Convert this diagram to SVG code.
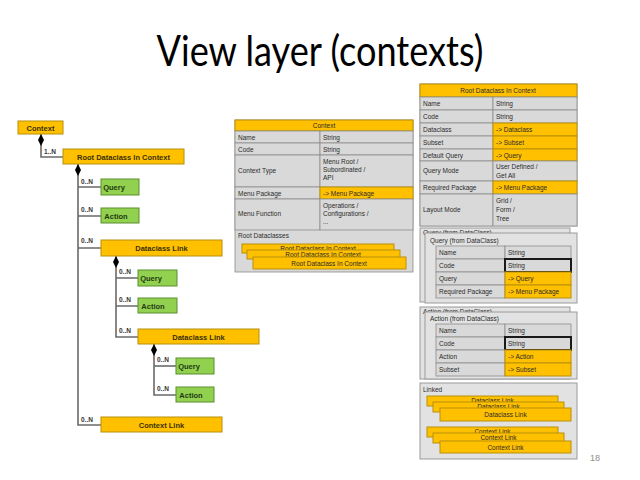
<svg xmlns="http://www.w3.org/2000/svg" width="640" height="480" viewBox="0 0 640 480">
<defs>
<style>
.o{fill:#FFC000;stroke:#B8900A;stroke-width:1}
.g{fill:#92D050;stroke:#5B8F2E;stroke-width:1}
.c{fill:#D9D9D9;stroke:#8C8C8C;stroke-width:0.8}
.p{fill:#E2E2E2;stroke:#9A9A9A;stroke-width:1}
.k{fill:none;stroke:#1a1a1a;stroke-width:2}
.t{font-family:"Liberation Sans",Arial,sans-serif;font-size:6.5px;fill:#2b2b2b}
.m{text-anchor:middle}
.n{font-family:"Liberation Sans",Arial,sans-serif;font-size:7.5px;font-weight:bold;fill:#3a3000;text-anchor:middle}
.ng{fill:#1f3a10}
.lb{font-family:"Liberation Sans",Arial,sans-serif;font-size:6.5px;font-weight:bold;fill:#333}
.ln{stroke:#6a6a6a;stroke-width:1.6;fill:none}
</style>
<marker id="dia" viewBox="0 0 12 6" refX="0" refY="3" markerWidth="12" markerHeight="6" markerUnits="userSpaceOnUse" orient="auto">
<path d="M0,3 L6,0 L12,3 L6,6 Z" fill="#000"/>
</marker>
</defs>
<rect width="640" height="480" fill="#fff"/>
<text x="320" y="66" font-family="Lato,'Open Sans',sans-serif" font-size="42" fill="#000" text-anchor="middle" textLength="327" lengthAdjust="spacingAndGlyphs">View layer (contexts)</text>

<g id="connectors">
<path class="ln" marker-start="url(#dia)" d="M41,134 V157 H63"/>
<text class="lb" x="44" y="154">1..N</text>
<path class="ln" marker-start="url(#dia)" d="M78,164 V425 H101"/>
<path class="ln" d="M78,187 H101 M78,216 H101 M78,248 H101"/>
<text class="lb" x="81" y="184">0..N</text>
<text class="lb" x="81" y="212">0..N</text>
<text class="lb" x="81" y="243">0..N</text>
<text class="lb" x="81" y="422">0..N</text>
<path class="ln" marker-start="url(#dia)" d="M116,256 V337 H138"/>
<path class="ln" d="M116,278 H138 M116,306 H138"/>
<text class="lb" x="119" y="274">0..N</text>
<text class="lb" x="119" y="302">0..N</text>
<text class="lb" x="119" y="333">0..N</text>
<path class="ln" marker-start="url(#dia)" d="M154,344 V395 H176"/>
<path class="ln" d="M154,366 H176"/>
<text class="lb" x="157" y="362">0..N</text>
<text class="lb" x="157" y="391">0..N</text>
</g>

<g id="n-context"><rect class="o" x="18" y="121" width="45" height="13"/><text class="n" x="40.5" y="130.5">Context</text></g>
<g id="n-root"><rect class="o" x="63" y="149" width="121" height="15"/><text class="n" x="123.5" y="159.5">Root Dataclass In Context</text></g>
<g id="n-query1"><rect class="g" x="101" y="179" width="38" height="16"/><text class="n ng" x="114" y="190" text-anchor="middle">Query</text></g>
<g id="n-action1"><rect class="g" x="101" y="208" width="38" height="15"/><text class="n ng" x="116" y="218.5">Action</text></g>
<g id="n-dlink1"><rect class="o" x="101" y="240" width="121" height="16"/><text class="n" x="161.5" y="251">Dataclass Link</text></g>
<g id="n-query2"><rect class="g" x="138" y="270" width="39" height="16"/><text class="n ng" x="151" y="281">Query</text></g>
<g id="n-action2"><rect class="g" x="138" y="298" width="39" height="15"/><text class="n ng" x="153" y="308.5">Action</text></g>
<g id="n-dlink2"><rect class="o" x="138" y="329" width="121" height="15"/><text class="n" x="198.5" y="339.5">Dataclass Link</text></g>
<g id="n-query3"><rect class="g" x="176" y="358" width="38" height="16"/><text class="n ng" x="189" y="369">Query</text></g>
<g id="n-action3"><rect class="g" x="176" y="387" width="38" height="15"/><text class="n ng" x="191" y="397.5">Action</text></g>
<g id="n-ctxlink"><rect class="o" x="101" y="417" width="121" height="15"/><text class="n" x="161.5" y="427.5">Context Link</text></g>

<g id="t-context">
<rect class="c" x="235" y="120" width="178" height="152"/>
<rect class="o" x="235" y="120" width="178" height="11"/>
<text class="t m" x="324" y="128">Context</text>
<rect class="c" x="235" y="131" width="85" height="12"/><rect class="c" x="320" y="131" width="93" height="12"/>
<text class="t" x="238" y="139.5">Name</text><text class="t" x="323" y="139.5">String</text>
<rect class="c" x="235" y="143" width="85" height="12"/><rect class="c" x="320" y="143" width="93" height="12"/>
<text class="t" x="238" y="151.5">Code</text><text class="t" x="323" y="151.5">String</text>
<rect class="c" x="235" y="155" width="85" height="32"/><rect class="c" x="320" y="155" width="93" height="32"/>
<text class="t" x="238" y="173">Context Type</text>
<text class="t" x="323" y="164">Menu Root /</text><text class="t" x="323" y="172">Subordinated /</text><text class="t" x="323" y="180">API</text>
<rect class="c" x="235" y="187" width="85" height="12"/><rect class="o" x="320" y="187" width="93" height="12"/>
<text class="t" x="238" y="195.5">Menu Package</text><text class="t" x="323" y="195.5">-&gt; Menu Package</text>
<rect class="c" x="235" y="199" width="85" height="31"/><rect class="c" x="320" y="199" width="93" height="31"/>
<text class="t" x="238" y="216">Menu Function</text>
<text class="t" x="323" y="208">Operations /</text><text class="t" x="323" y="216">Configurations /</text><text class="t" x="323" y="224" fill="#888">...</text>
<text class="t" x="238" y="238">Root Dataclasses</text>
<rect class="o" x="242" y="244" width="152" height="9"/><text class="t m" x="318" y="251">Root Dataclass In Context</text>
<rect class="o" x="247" y="250" width="153" height="9"/><text class="t m" x="323" y="257">Root Dataclass In Context</text>
<rect class="o" x="253" y="257" width="153" height="12"/><text class="t m" x="329" y="265.5">Root Dataclass In Context</text>
</g>

<g id="t-root">
<rect class="c" x="420" y="84" width="157" height="142"/>
<rect class="o" x="420" y="84" width="157" height="13"/>
<text class="t m" x="498" y="93">Root Dataclass In Context</text>
<rect class="c" x="420" y="97" width="73" height="13"/><rect class="c" x="493" y="97" width="84" height="13"/>
<text class="t" x="423" y="106">Name</text><text class="t" x="496" y="106">String</text>
<rect class="c" x="420" y="110" width="73" height="13"/><rect class="c" x="493" y="110" width="84" height="13"/>
<text class="t" x="423" y="119">Code</text><text class="t" x="496" y="119">String</text>
<rect class="c" x="420" y="123" width="73" height="13"/><rect class="o" x="493" y="123" width="84" height="13"/>
<text class="t" x="423" y="132">Dataclass</text><text class="t" x="496" y="132">-&gt; Dataclass</text>
<rect class="c" x="420" y="136" width="73" height="13"/><rect class="o" x="493" y="136" width="84" height="13"/>
<text class="t" x="423" y="145">Subset</text><text class="t" x="496" y="145">-&gt; Subset</text>
<rect class="c" x="420" y="149" width="73" height="12"/><rect class="o" x="493" y="149" width="84" height="12"/>
<text class="t" x="423" y="157.5">Default Query</text><text class="t" x="496" y="157.5">-&gt; Query</text>
<rect class="c" x="420" y="161" width="73" height="20"/><rect class="c" x="493" y="161" width="84" height="20"/>
<text class="t" x="423" y="173">Query Mode</text><text class="t" x="496" y="169">User Defined /</text><text class="t" x="496" y="178">Get All</text>
<rect class="c" x="420" y="181" width="73" height="13"/><rect class="o" x="493" y="181" width="84" height="13"/>
<text class="t" x="423" y="190">Required Package</text><text class="t" x="496" y="190">-&gt; Menu Package</text>
<rect class="c" x="420" y="194" width="73" height="32"/><rect class="c" x="493" y="194" width="84" height="32"/>
<text class="t" x="423" y="212">Layout Mode</text><text class="t" x="496" y="203">Grid /</text><text class="t" x="496" y="212">Form /</text><text class="t" x="496" y="221">Tree</text>
</g>

<g id="t-query">
<rect class="p" x="420" y="228" width="150" height="74"/>
<text class="t" x="423" y="235">Query (from DataClass)</text>
<rect class="p" x="425" y="233" width="152" height="70"/>
<text class="t" x="430" y="242.5">Query (from DataClass)</text>
<rect class="c" x="436" y="246" width="69" height="13"/><rect class="c" x="505" y="246" width="66" height="13"/>
<text class="t" x="439" y="255">Name</text><text class="t" x="508" y="255">String</text>
<rect class="c" x="436" y="259" width="69" height="13"/><rect class="c" x="505" y="259" width="66" height="13"/><rect class="k" x="505" y="259" width="66" height="13"/>
<text class="t" x="439" y="268">Code</text><text class="t" x="508" y="268">String</text>
<rect class="c" x="436" y="272" width="69" height="13"/><rect class="o" x="505" y="272" width="66" height="13"/>
<text class="t" x="439" y="281">Query</text><text class="t" x="508" y="281">-&gt; Query</text>
<rect class="c" x="436" y="285" width="69" height="13"/><rect class="o" x="505" y="285" width="66" height="13"/>
<text class="t" x="439" y="294">Required Package</text><text class="t" x="508" y="294">-&gt; Menu Package</text>
</g>

<g id="t-action">
<rect class="p" x="420" y="307" width="150" height="72"/>
<text class="t" x="423" y="314">Action (from DataClass)</text>
<rect class="p" x="425" y="312" width="152" height="67"/>
<text class="t" x="430" y="321">Action (from DataClass)</text>
<rect class="c" x="436" y="324" width="69" height="13"/><rect class="c" x="505" y="324" width="66" height="13"/>
<text class="t" x="439" y="333">Name</text><text class="t" x="508" y="333">String</text>
<rect class="c" x="436" y="337" width="69" height="13"/><rect class="c" x="505" y="337" width="66" height="13"/><rect class="k" x="505" y="337" width="66" height="13"/>
<text class="t" x="439" y="346">Code</text><text class="t" x="508" y="346">String</text>
<rect class="c" x="436" y="350" width="69" height="13"/><rect class="o" x="505" y="350" width="66" height="13"/>
<text class="t" x="439" y="359">Action</text><text class="t" x="508" y="359">-&gt; Action</text>
<rect class="c" x="436" y="363" width="69" height="13"/><rect class="o" x="505" y="363" width="66" height="13"/>
<text class="t" x="439" y="372">Subset</text><text class="t" x="508" y="372">-&gt; Subset</text>
</g>

<g id="t-linked">
<rect class="p" x="420" y="383" width="157" height="76"/>
<text class="t" x="423" y="392">Linked</text>
<rect class="o" x="427" y="396" width="131" height="10"/><text class="t m" x="492.5" y="403">Dataclass Link</text>
<rect class="o" x="433" y="402" width="131" height="10"/><text class="t m" x="498.5" y="409">Dataclass Link</text>
<rect class="o" x="440" y="408" width="131" height="13"/><text class="t m" x="505.5" y="417">Dataclass Link</text>
<rect class="o" x="427" y="427" width="131" height="10"/><text class="t m" x="492.5" y="434">Context Link</text>
<rect class="o" x="433" y="433" width="131" height="10"/><text class="t m" x="498.5" y="440">Context Link</text>
<rect class="o" x="440" y="441" width="131" height="12"/><text class="t m" x="505.5" y="449.5">Context Link</text>
</g>

<text x="590" y="461" font-family="'Liberation Sans',Arial,sans-serif" font-size="9" fill="#8c8c8c">18</text>
</svg>
